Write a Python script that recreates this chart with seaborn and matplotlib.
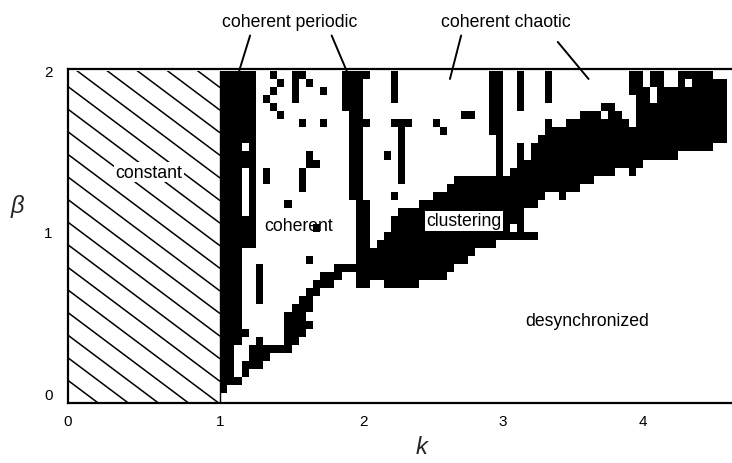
import numpy as np
import matplotlib
matplotlib.use("Agg")
import matplotlib.pyplot as plt
import seaborn as sns
from matplotlib.colors import ListedColormap
from matplotlib.patches import Rectangle

# ---------------- data ----------------
# phase grid: columns of width 0.05 in k starting at k = 1, rows of height 0.05 in beta
k_start, dk, db = 1.0, 0.05, 0.05
n_cols, n_rows = 72, 40

# coherent periodic band at k ~ 1 and the lower staircase edge of the coherent region
# (column, first black row, last black row)
left_runs = [(0, 0, 39), (1, 1, 39), (2, 1, 1), (2, 6, 39),
             (3, 2, 3), (3, 7, 7), (3, 18, 21), (3, 28, 29), (3, 31, 39),
             (4, 3, 5), (4, 18, 39)]
stair_runs = [(5, 3, 6), (6, 4, 5), (7, 5, 5), (8, 5, 5), (9, 5, 9), (10, 6, 10),
              (11, 7, 11), (12, 10, 12), (13, 12, 13), (14, 13, 14), (15, 13, 14),
              (16, 14, 15), (17, 15, 15), (18, 15, 15)]
# coherent periodic stripe at k ~ 1.9
stripe_runs = [(17, 35, 39), (18, 24, 39), (19, 13, 39), (20, 13, 23),
               (20, 39, 39), (20, 33, 33)]
# clustering band
cluster_cols = list(range(21, 72))
cluster_lo = [14, 14, 13, 13, 13, 13, 13, 14, 14, 14, 14, 15, 16, 16, 17, 18, 18,
              18, 19, 19, 21, 19, 23, 23, 24, 25, 25, 24, 25, 25, 26, 26, 27, 27,
              27, 28, 28, 27, 28, 29, 29, 29, 29, 29, 30, 30, 30, 30, 30, 31, 31]
cluster_hi = [17, 18, 19, 21, 22, 22, 22, 23, 23, 24, 24, 25, 26, 26, 26, 26, 26,
              39, 39, 26, 27, 30, 28, 30, 31, 33, 32, 32, 33, 33, 34, 34, 34, 35,
              35, 34, 33, 32, 39, 39, 39, 39, 39, 39, 39, 39, 39, 39, 39, 39, 39]
# isolated black cells and short stripes inside the coherent region
extra_runs = [(7, 39, 39), (8, 38, 38), (7, 37, 37), (6, 36, 36), (7, 35, 35),
              (8, 34, 34), (10, 36, 39), (11, 39, 39), (12, 38, 38), (14, 37, 37),
              (11, 33, 33), (14, 33, 33), (12, 28, 29), (13, 28, 28), (6, 26, 27),
              (11, 25, 27), (9, 23, 23), (13, 20, 20), (12, 16, 16), (5, 11, 15),
              (12, 8, 8), (24, 36, 39), (24, 33, 33), (25, 33, 33), (26, 33, 33),
              (25, 26, 32), (23, 29, 29), (24, 24, 24), (30, 33, 33), (31, 32, 32),
              (34, 34, 34), (35, 34, 34), (42, 35, 39), (46, 36, 39), (58, 37, 39),
              (41, 19, 19), (43, 19, 19), (44, 19, 19)]
# white cells inside the black areas
hole_runs = [(38, 27, 31), (54, 34, 34), (60, 38, 39), (61, 36, 37),
             (63, 38, 39), (64, 38, 39), (66, 38, 38), (70, 39, 39), (71, 39, 39)]

x_ticks = [0, 1, 2, 3, 4]
y_ticks = [0, 1, 2]

region_labels = ["constant", "coherent", "clustering", "desynchronized"]
region_pos = [(0.53, 1.37), (1.55, 1.04), (2.72, 1.07), (3.60, 0.45)]
top_labels = ["coherent periodic", "coherent chaotic"]
top_pos = [(1.49, 2.31), (3.02, 2.31)]
# pointer lines: (label end) -> (target on the diagram)
pointer_from = [(1.21, 2.22), (1.78, 2.22), (2.70, 2.22), (3.39, 2.18)]
pointer_to = [(1.13, 1.99), (1.89, 1.99), (2.62, 1.95), (3.61, 1.95)]

# ---------------- build the grid ----------------
grid = np.zeros((n_rows, n_cols))
for (c, r0, r1) in left_runs + stair_runs + stripe_runs + extra_runs:
    grid[r0:r1 + 1, c] = 1
for c, lo, hi in zip(cluster_cols, cluster_lo, cluster_hi):
    grid[lo:hi + 1, c] = 1
for (c, r0, r1) in hole_runs:
    grid[r0:r1 + 1, c] = 0

k_edges = k_start + dk * np.arange(n_cols + 1)
b_edges = db * np.arange(n_rows + 1)

# ---------------- figure ----------------
sns.set_theme(style="white")
plt.rcParams['font.family'] = ['Liberation Sans', 'DejaVu Sans']

W, H, DPI = 732, 464, 100
fig = plt.figure(figsize=(W / DPI, H / DPI), dpi=DPI)
ax = fig.add_axes([68 / W, 1 - 404 / H, 1 - 68 / W, (404 - 70) / H])

# the printed k axis is slightly uneven; follow its tick spacing
k_knots = np.array([0.0, 1.0, 2.0, 3.0, 4.0, 5.0])
p_knots = np.array([0.0, 152.0, 295.0, 435.0, 575.0, 715.0])


def fwd(v):
    v = np.asarray(v, dtype=float)
    return np.interp(v, k_knots, p_knots) + \
        np.where(v < 0, v * 152.0, 0) + np.where(v > 5, (v - 5) * 140.0, 0)


def inv(p):
    p = np.asarray(p, dtype=float)
    return np.interp(p, p_knots, k_knots) + \
        np.where(p < 0, p / 152.0, 0) + np.where(p > 715, (p - 715) / 140.0, 0)


ax.set_xscale('function', functions=(fwd, inv))
xmin, xmax, ymin, ymax = 0, 4.634, -0.062, 2.012
ax.set_xlim(xmin, xmax)
ax.set_ylim(ymin, ymax)

masked = np.ma.masked_where(grid == 0, grid)
ax.pcolormesh(k_edges, b_edges, masked, cmap=ListedColormap(['black']),
              shading='flat', edgecolors='none', antialiased=False, zorder=2)

# hatched "constant" region 0 <= k <= 1
rect = Rectangle((0, ymin), 1, 2.0 - ymin, facecolor='none', edgecolor='none', zorder=1)
ax.add_patch(rect)
px_per_k = 152.0
px_per_b = (404 - 70) / (ymax - ymin)
slope = -0.75 * px_per_k / px_per_b       # data slope of hatch lines
spacing = 22.6 / px_per_b                  # vertical spacing in beta units
kk = np.array([0.0, 1.0])
for c in np.arange(ymin, 2.0 + 1.0 + spacing, spacing):
    ln, = ax.plot(kk, c + slope * kk, color='black', lw=1.1, zorder=1,
                  solid_capstyle='butt')
    ln.set_clip_path(rect)
ax.plot([1, 1], [ymin, 2.0], color='black', lw=1.0, zorder=1)

# labels
FS = 12.7
for lab, (x, y) in zip(region_labels, region_pos):
    kw = {}
    if lab in ("constant", "clustering"):
        kw['bbox'] = dict(facecolor='white', edgecolor='none', pad=1.2)
    ax.text(x, y, lab, ha='center', va='center', fontsize=FS, color='black',
            zorder=5, **kw)
for lab, (x, y) in zip(top_labels, top_pos):
    ax.text(x, y, lab, ha='center', va='center', fontsize=FS, color='black',
            clip_on=False)
for p0, p1 in zip(pointer_from, pointer_to):
    ax.annotate('', xy=p1, xytext=p0, annotation_clip=False,
                arrowprops=dict(arrowstyle='-', lw=1.4, color='black',
                                shrinkA=0, shrinkB=0), zorder=6)

ax.set_xticks(x_ticks)
ax.set_yticks(y_ticks)
ax.set_xticklabels([str(t) for t in x_ticks])
ax.set_yticklabels([str(t) for t in y_ticks])
ax.xaxis.set_minor_locator(matplotlib.ticker.NullLocator())
ax.tick_params(axis='x', direction='in', length=4, width=1.5, labelsize=11,
               pad=8, colors='black')
ax.tick_params(axis='y', direction='in', length=4, width=1.5, labelsize=11,
               pad=11, colors='black')
for s in ['top', 'left', 'bottom']:
    ax.spines[s].set_visible(True)
    ax.spines[s].set_color('black')
    ax.spines[s].set_linewidth(1.6)
ax.spines['right'].set_visible(False)

ax.set_xlabel('k', fontsize=17, fontstyle='italic', va='center')
ax.xaxis.set_label_coords(0.533, -0.129)
ax.set_ylabel('β', fontsize=17, fontstyle='italic', rotation=0,
              va='center', ha='center')
ax.yaxis.set_label_coords(-0.077, 0.59)
ax.grid(False)

fig.savefig('out.png', dpi=DPI, facecolor='white')
